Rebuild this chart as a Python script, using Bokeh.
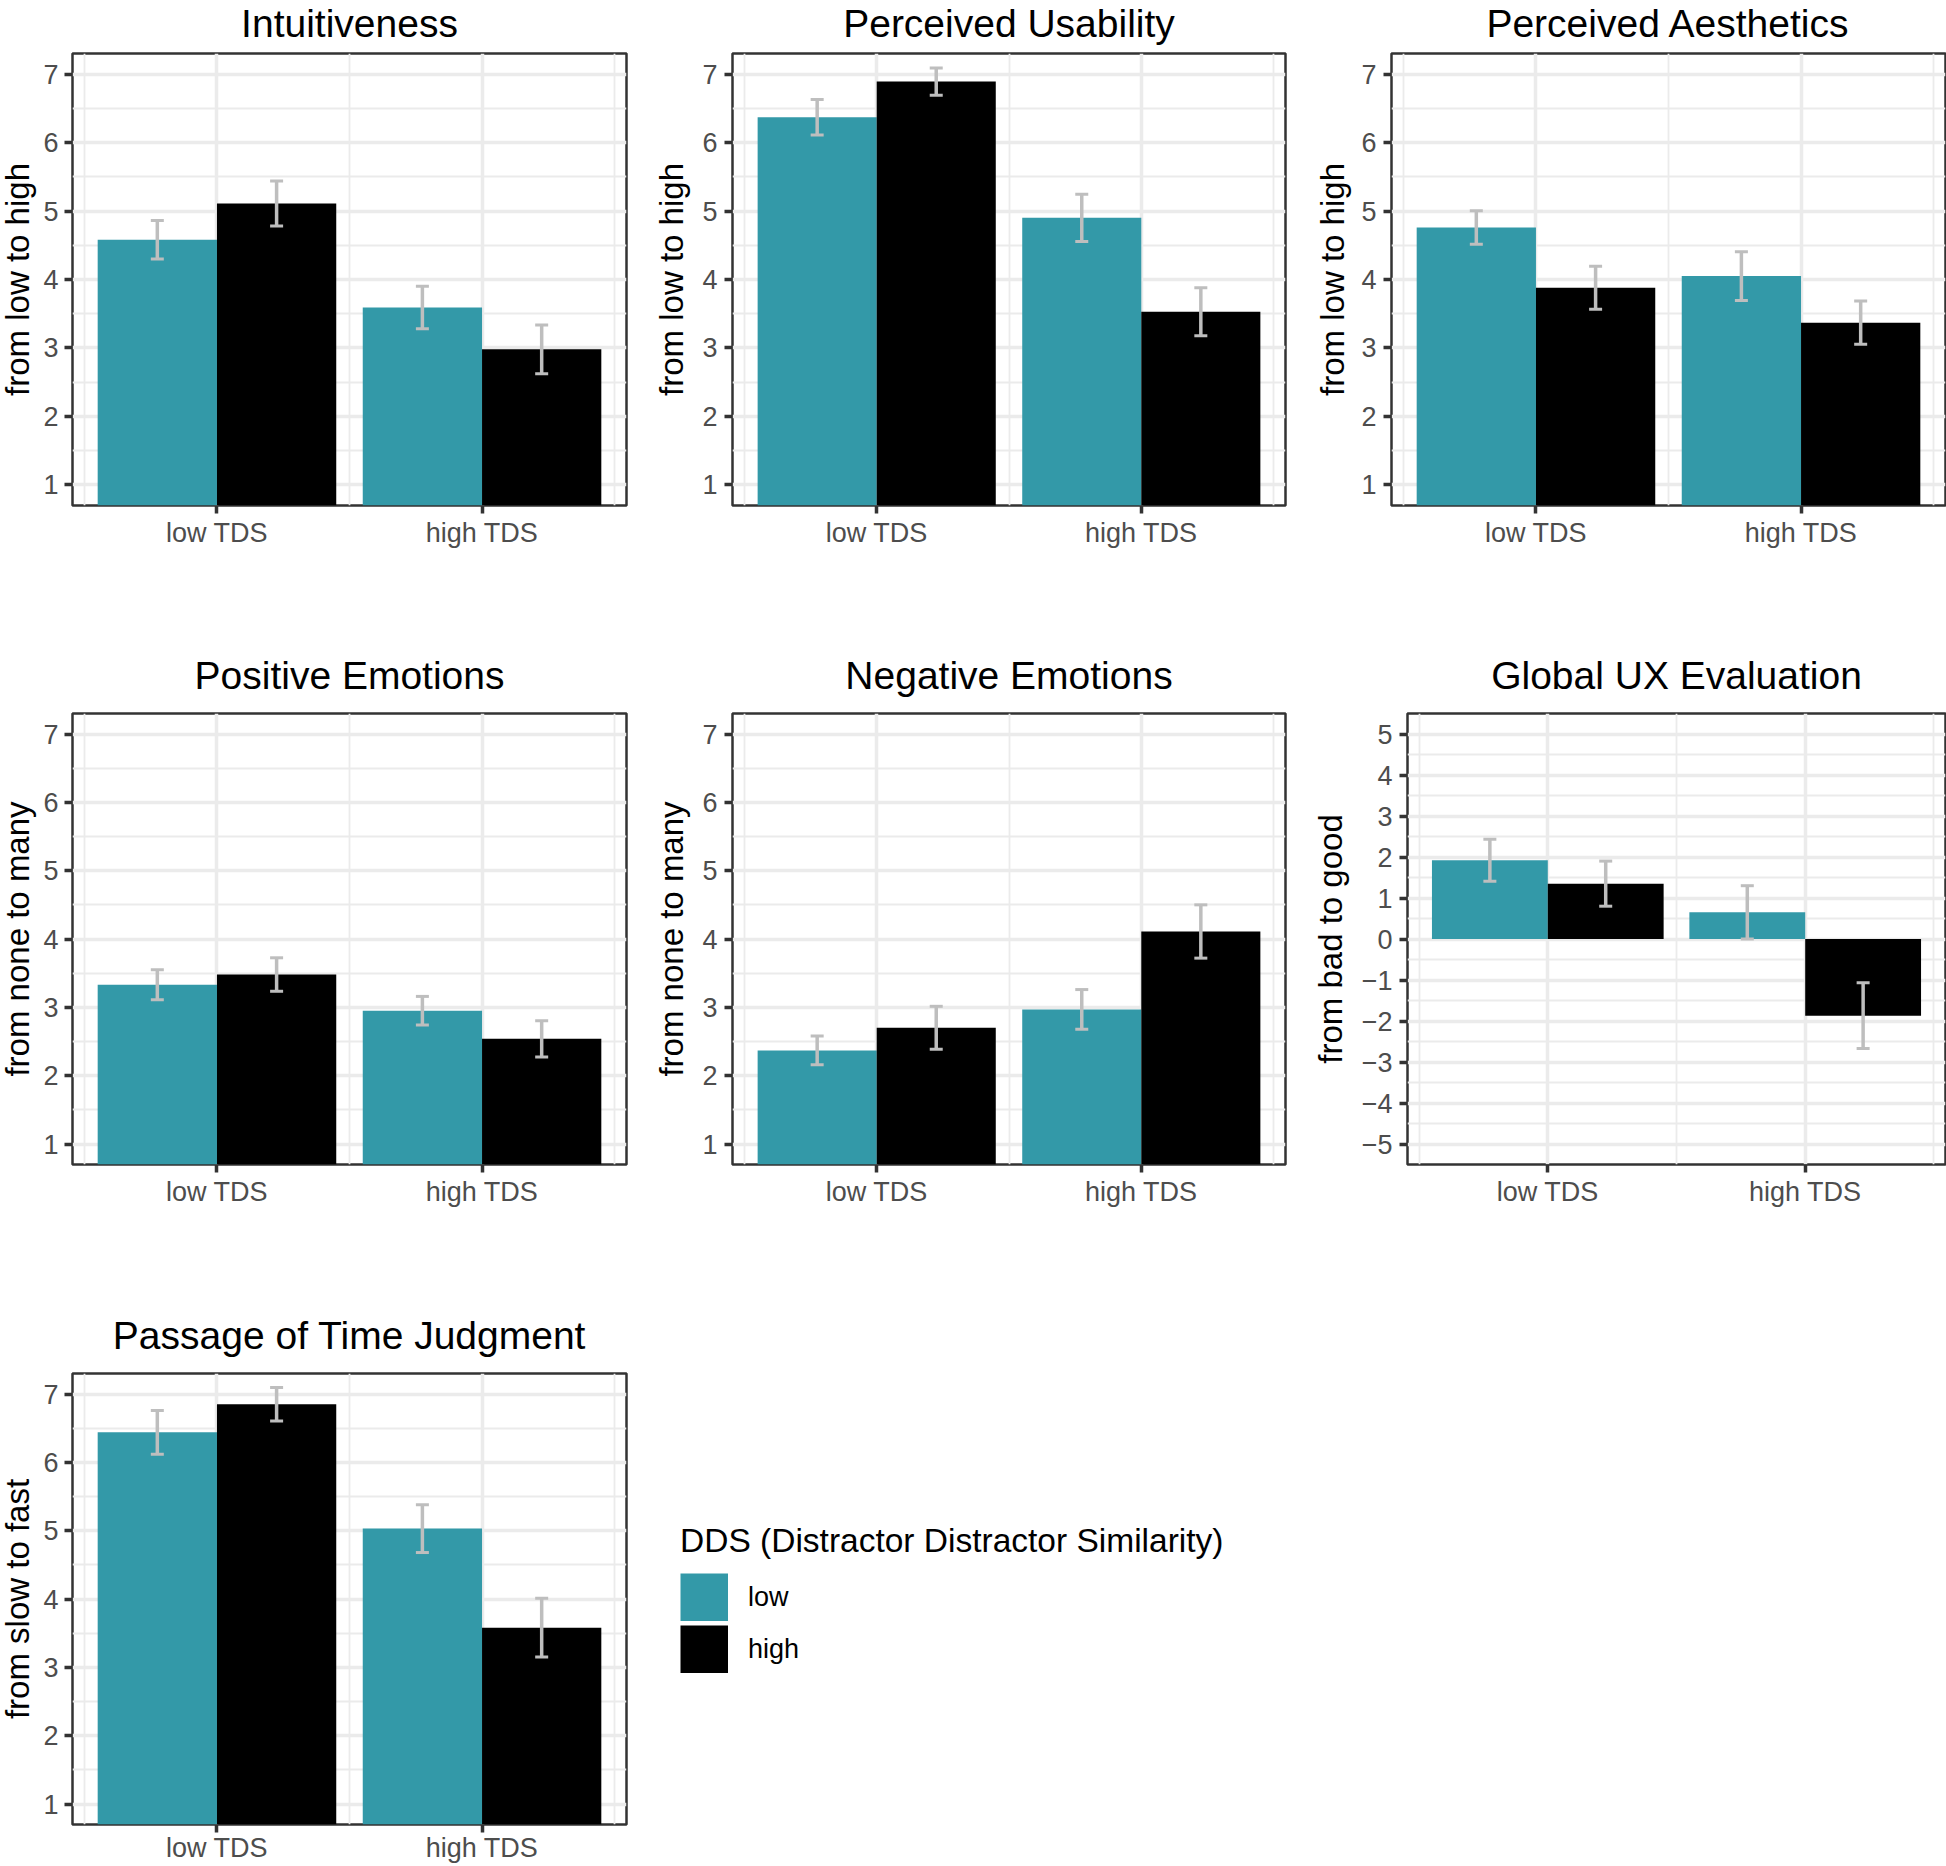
import numpy as np
from bokeh.plotting import figure
from bokeh.models import (ColumnDataSource, FixedTicker, Whisker, TeeHead,
                          Legend, LegendItem, Range1d, Grid)
from bokeh.layouts import row, column
from bokeh.embed import file_html
from bokeh.resources import INLINE

# ---------------- data ----------------
categories = ["low TDS", "high TDS"]
dds_levels = ["low", "high"]
dds_colors = ["#3399A8", "#000000"]
legend_title = "DDS (Distractor Distractor Similarity)"

titles = ["Intuitiveness", "Perceived Usability", "Perceived Aesthetics",
          "Positive Emotions", "Negative Emotions", "Global UX Evaluation",
          "Passage of Time Judgment"]
ylabels = ["from low to high", "from low to high", "from low to high",
           "from none to many", "from none to many", "from bad to good",
           "from slow to fast"]

scale_7 = [1, 2, 3, 4, 5, 6, 7]
scale_gux = [-5, -4, -3, -2, -1, 0, 1, 2, 3, 4, 5]

# means (per TDS category) and standard errors, for DDS low / DDS high
intuit_low, intuit_low_se = [4.58, 3.59], [0.28, 0.31]
intuit_high, intuit_high_se = [5.11, 2.98], [0.33, 0.355]

usab_low, usab_low_se = [6.37, 4.90], [0.26, 0.345]
usab_high, usab_high_se = [6.89, 3.53], [0.20, 0.35]

aesth_low, aesth_low_se = [4.76, 4.05], [0.245, 0.355]
aesth_high, aesth_high_se = [3.88, 3.37], [0.315, 0.315]

pos_low, pos_low_se = [3.33, 2.95], [0.22, 0.21]
pos_high, pos_high_se = [3.48, 2.54], [0.245, 0.265]

neg_low, neg_low_se = [2.37, 2.97], [0.21, 0.29]
neg_high, neg_high_se = [2.70, 4.11], [0.315, 0.39]

gux_low, gux_low_se = [1.92, 0.65], [0.51, 0.65]
gux_high, gux_high_se = [1.35, -1.87], [0.55, 0.80]

time_low, time_low_se = [6.44, 5.03], [0.32, 0.35]
time_high, time_high_se = [6.85, 3.58], [0.245, 0.43]

panel_data = [
    (intuit_low, intuit_low_se, intuit_high, intuit_high_se, scale_7),
    (usab_low, usab_low_se, usab_high, usab_high_se, scale_7),
    (aesth_low, aesth_low_se, aesth_high, aesth_high_se, scale_7),
    (pos_low, pos_low_se, pos_high, pos_high_se, scale_7),
    (neg_low, neg_low_se, neg_high, neg_high_se, scale_7),
    (gux_low, gux_low_se, gux_high, gux_high_se, scale_gux),
    (time_low, time_low_se, time_high, time_high_se, scale_7),
]

# ---------------- layout geometry (pixels) ----------------
# rows are shifted 8px to the left (negative margin), so the first plot of each
# row is 8px wider with an 8px larger left border.
# (fig width, fig height, border left, border top, frame width, frame height,
#  axis-label standoff, y tick-label standoff, x tick-label standoff, title standoff)
geometry = [
    (653, 660, 80, 80, 554, 452, 4, 6, 4, 18),
    (660, 660, 87, 80, 553, 452, 9, 7, 4, 18),
    (641, 660, 86, 80, 554, 452, 7, 7, 4, 18),
    (653, 660, 80, 80, 554, 451, 4, 6, 4, 34),
    (660, 660, 87, 80, 553, 451, 9, 7, 4, 34),
    (641, 660, 102, 80, 538, 451, 10, 7, 4, 34),
    (653, 573, 80, 80, 554, 451, 4, 6, 0, 34),
]

FONT = "Liberation Sans"
GRID = "#EBEBEB"
DARK = "#333333"
ERR = "#BEBEBE"


def make_panel(i):
    title, ylabel = titles[i], ylabels[i]
    m_low, s_low, m_high, s_high, ticks = panel_data[i]
    fw, fh, bl, bt, frw, frh, lab_so, ytick_so, xtick_so, tit_so = geometry[i]

    n = len(categories)
    xs = np.arange(1, n + 1, dtype=float)
    dodge_w = 0.9
    bar_w = dodge_w / len(dds_levels)
    x0 = 1 - dodge_w / 2 - 0.05 * (n - 1 + dodge_w)
    x1 = n + dodge_w / 2 + 0.05 * (n - 1 + dodge_w)
    lo, hi = min(ticks), max(ticks)
    y0 = lo - 0.05 * (hi - lo)
    y1 = hi + 0.05 * (hi - lo)

    p = figure(width=fw, height=fh, x_range=Range1d(x0, x1), y_range=Range1d(y0, y1),
               output_backend="svg", toolbar_location=None, tools="", title=title,
               min_border_left=bl, min_border_top=bt,
               min_border_right=fw - bl - frw, min_border_bottom=fh - bt - frh)
    p.background_fill_color = "white"
    p.border_fill_color = "white"
    p.outline_line_color = DARK
    p.outline_line_width = 2.5

    p.title.align = "center"
    p.title.text_font = FONT
    p.title.text_font_size = "39px"
    p.title.text_font_style = "normal"
    p.title.text_color = "black"
    p.title.standoff = tit_so

    # ticks / grids
    xt = FixedTicker(ticks=list(xs), minor_ticks=list(np.arange(0.5, n + 1.0, 1.0)))
    yt = FixedTicker(ticks=list(ticks), minor_ticks=[t + 0.5 for t in ticks[:-1]])
    p.xaxis.ticker = xt
    p.yaxis.ticker = yt
    p.xgrid.ticker = xt
    p.ygrid.ticker = yt
    for g in (p.xgrid, p.ygrid):
        g.grid_line_color = GRID
        g.grid_line_width = 3.5
        g.minor_grid_line_color = GRID
        g.minor_grid_line_width = 1.8

    p.xaxis.major_label_overrides = {float(v): c for v, c in zip(xs, categories)}
    p.yaxis.major_label_overrides = {float(t): (("\u2212" + str(abs(t))) if t < 0 else str(t))
                                     for t in ticks}
    for ax in (p.xaxis, p.yaxis):
        ax.axis_line_color = None
        ax.major_tick_line_color = DARK
        ax.major_tick_line_width = 3.5
        ax.major_tick_in = 0
        ax.major_tick_out = 8
        ax.minor_tick_line_color = None
        ax.major_label_text_font = FONT
        ax.major_label_text_font_size = "27px"
        ax.major_label_text_color = "#4D4D4D"
    p.xaxis.major_label_standoff = xtick_so
    p.yaxis.major_label_standoff = ytick_so

    p.yaxis.axis_label = ylabel
    p.yaxis.axis_label_text_font = FONT
    p.yaxis.axis_label_text_font_size = "33px"
    p.yaxis.axis_label_text_font_style = "normal"
    p.yaxis.axis_label_text_color = "black"
    p.yaxis.axis_label_standoff = lab_so

    # bars + error bars
    for k, (lvl, col) in enumerate(zip(dds_levels, dds_colors)):
        means = np.array(m_low if k == 0 else m_high)
        ses = np.array(s_low if k == 0 else s_high)
        off = (k - (len(dds_levels) - 1) / 2) * bar_w
        src = ColumnDataSource(dict(x=xs + off, top=means, upper=means + ses, lower=means - ses))
        p.vbar(x="x", top="top", bottom=0, width=bar_w, source=src,
               fill_color=col, line_color=None)
        w = Whisker(base="x", upper="upper", lower="lower", source=src, level="annotation",
                    line_color=ERR, line_width=3.5,
                    upper_head=TeeHead(size=13, line_color=ERR, line_width=3),
                    lower_head=TeeHead(size=13, line_color=ERR, line_width=3))
        p.add_layout(w)
    return p


figs = [make_panel(i) for i in range(7)]

# ---------------- legend panel (beside the last plot) ----------------
pl = figure(width=1301, height=573, x_range=Range1d(0, 1), y_range=Range1d(0, 1),
            output_backend="svg", toolbar_location=None, tools="",
            x_axis_location=None, y_axis_location=None,
            min_border_left=0, min_border_right=0, min_border_top=80, min_border_bottom=42)
for obj in pl.select(type=Grid):
    obj.visible = False
    obj.grid_line_color = None
pl.outline_line_color = None
pl.outline_line_alpha = 0
pl.background_fill_alpha = 0
pl.border_fill_alpha = 0
proxies = []
for lvl, col in zip(dds_levels, dds_colors):
    # legend key proxies (a thick butt-capped line draws a full square key),
    # kept outside the visible range of this blank panel
    proxies.append(pl.line(x=[-5.0, -4.0], y=[0.5, 0.5], line_width=48,
                           line_color=col, line_cap="butt"))

legend = Legend(items=[LegendItem(label=lvl, renderers=[r]) for lvl, r in zip(dds_levels, proxies)],
                location=(35, 151), title=legend_title,
                glyph_width=48, glyph_height=48, label_standoff=20, spacing=4,
                padding=0, margin=0, border_line_color=None, background_fill_alpha=0,
                title_text_font=FONT, title_text_font_size="33.5px", title_text_font_style="normal",
                title_text_color="black", title_standoff=13,
                label_text_font=FONT, label_text_font_size="27px", label_text_color="black")
pl.add_layout(legend)

layout = column(
    row(figs[0], figs[1], figs[2], margin=(-27, 0, 0, -8)),
    row(figs[3], figs[4], figs[5], margin=(0, 0, 0, -8)),
    row(figs[6], pl, margin=(0, 0, 0, -8)),
)

open("out.html", "w").write(file_html(layout, INLINE))
